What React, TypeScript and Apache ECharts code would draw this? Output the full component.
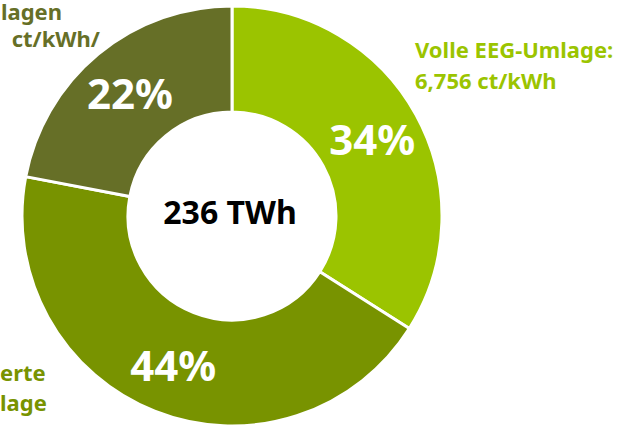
import React, { useEffect, useRef } from "react";
import * as echarts from "echarts";

const categories = ["Volle EEG-Umlage", "Privilegierte EEG-Umlage", "Reduzierte Umlagen"];
const shares = [34, 44, 22];
const colors = ["#9BC400", "#789300", "#666F27"];
const totalLabel = "236 TWh";
const outerLabels = [
  { lines: ["Volle EEG-Umlage:", "6,756 ct/kWh"], color: colors[0] },
  { lines: ["erte", "lage"], color: colors[1] },
  { lines: ["lagen", "ct/kWh/"], color: colors[2] },
];

const FONT = "'Noto Sans', sans-serif";

export default function App() {
  const ref = useRef<HTMLDivElement>(null);
  useEffect(() => {
    document.body.style.margin = "0";
    if (!ref.current) return;
    const chart = echarts.init(ref.current, null, { renderer: "svg" });
    // y given as text baseline; converted to middle alignment
    const txt = (x: number, baseline: number, text: string, color: string, align: string) => ({
      type: "text",
      x,
      y: baseline - 8,
      z: 10,
      style: {
        text,
        fill: color,
        font: `bold 22px ${FONT}`,
        textAlign: align,
        textVerticalAlign: "middle",
      },
    });
    chart.setOption({
      animation: false,
      backgroundColor: "#ffffff",
      series: [
        {
          type: "pie",
          center: [232, 216],
          radius: [104, 210],
          startAngle: 90,
          clockwise: true,
          avoidLabelOverlap: false,
          itemStyle: { borderColor: "#ffffff", borderWidth: 3 },
          label: {
            show: true,
            position: "inside",
            formatter: "{c}%",
            color: "#ffffff",
            fontFamily: FONT,
            fontWeight: "bold",
            fontSize: 42,
          },
          labelLine: { show: false },
          emphasis: { disabled: true },
          data: categories.map((name, i) => ({
            name,
            value: shares[i],
            itemStyle: { color: colors[i] },
          })),
        },
      ],
      graphic: [
        {
          type: "text",
          x: 230,
          y: 211,
          z: 10,
          style: {
            text: totalLabel,
            fill: "#000000",
            font: `bold 32px ${FONT}`,
            textAlign: "center",
            textVerticalAlign: "middle",
          },
        },
        txt(415, 57, outerLabels[0].lines[0], outerLabels[0].color, "left"),
        txt(415, 88, outerLabels[0].lines[1], outerLabels[0].color, "left"),
        txt(0, 380, outerLabels[1].lines[0], outerLabels[1].color, "left"),
        txt(0, 410, outerLabels[1].lines[1], outerLabels[1].color, "left"),
        txt(62, 19, outerLabels[2].lines[0], outerLabels[2].color, "right"),
        txt(100, 46, outerLabels[2].lines[1], outerLabels[2].color, "right"),
      ],
    });
    return () => chart.dispose();
  }, []);
  return <div ref={ref} style={{ width: 635, height: 425 }} />;
}
